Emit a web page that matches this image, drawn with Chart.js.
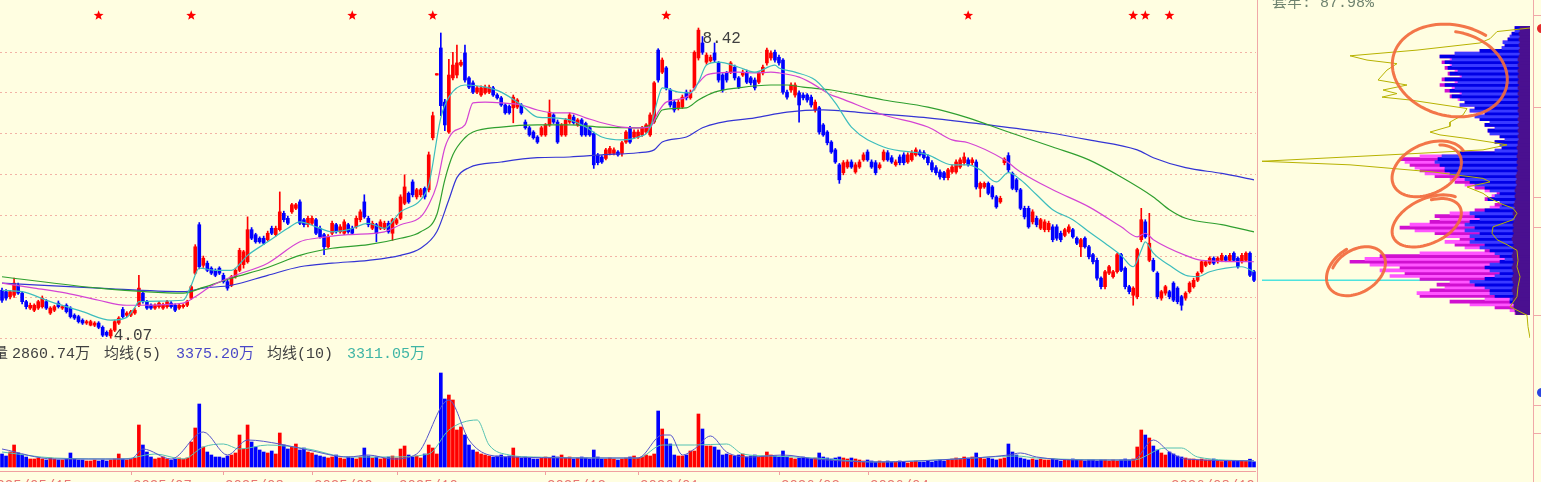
<!DOCTYPE html>
<html><head><meta charset="utf-8">
<script src="https://cdn.jsdelivr.net/npm/chart.js@4.4.1/dist/chart.umd.min.js"></script>
<style>
html,body{margin:0;padding:0;background:#fffee1;overflow:hidden;width:1541px;height:482px;}
#wrap{position:relative;width:1541px;height:482px;overflow:hidden;background:#fffee1;}
canvas{position:absolute;}
.t{position:absolute;white-space:nowrap;font-family:"Liberation Mono","Noto Sans CJK SC",monospace;font-size:15px;line-height:16px;color:#404040;}
.vl{position:absolute;background:#f0a8a8;}
</style></head><body>
<div id="wrap">
<canvas id="cp" width="1256" height="345" style="left:0;top:0"></canvas>
<canvas id="cv" width="1256" height="137" style="left:0;top:345px"></canvas>
<canvas id="cc" width="274" height="345" style="left:1259px;top:0"></canvas>
<div class="vl" style="left:1257px;top:0;width:1px;height:482px"></div>
<div class="vl" style="left:1533px;top:0;width:1px;height:482px"></div>
<div class="vl" style="left:1534px;top:15px;width:7px;height:1px"></div>
<div class="vl" style="left:1534px;top:107px;width:7px;height:1px"></div>
<div class="vl" style="left:1534px;top:197px;width:7px;height:1px"></div>
<div class="vl" style="left:1534px;top:227px;width:7px;height:1px"></div>
<div class="vl" style="left:1534px;top:315px;width:7px;height:1px"></div>
<div class="vl" style="left:1534px;top:405px;width:7px;height:1px"></div>
<div class="vl" style="left:1534px;top:433px;width:7px;height:1px"></div>
<div style="position:absolute;left:1537px;top:24px;width:9px;height:9px;border-radius:5px;background:#e52a2a"></div>
<div style="position:absolute;left:1537px;top:388px;width:9px;height:9px;border-radius:5px;background:#2b45e0"></div>
<div class="t" style="left:-7px;top:347px">量</div>
<div class="t" id="vTxt" style="left:12px;top:347px"></div>
<div class="t" style="left:104px;top:347px">均线(5)</div>
<div class="t" id="m5Txt" style="left:176px;top:347px;color:#4a48c8"></div>
<div class="t" style="left:267px;top:347px">均线(10)</div>
<div class="t" id="m10Txt" style="left:347px;top:347px;color:#3fb5a5"></div>
<div class="t" id="trap" style="left:1272px;top:-4px;color:#6f836f"></div>
</div>
<script>
// ---------------- price data (OHLC per trading day) ----------------
const O=[4.74,4.72,4.65,4.67,4.81,4.70,4.58,4.49,4.46,4.49,
4.51,4.58,4.42,4.46,4.56,4.49,4.53,4.49,4.39,4.37,
4.32,4.28,4.25,4.25,4.28,4.22,4.15,4.10,4.18,4.28,
4.47,4.39,4.39,4.42,4.53,4.70,4.58,4.53,4.49,4.51,
4.49,4.51,4.56,4.53,4.49,4.51,4.53,4.63,4.98,5.66,
5.09,5.12,5.05,5.02,5.05,4.95,4.86,4.81,4.93,5.02,
5.10,5.14,5.59,5.52,5.47,5.47,5.45,5.61,5.52,5.59,
5.82,5.75,5.84,5.89,5.98,5.73,5.66,5.68,5.73,5.61,
5.52,5.35,5.54,5.66,5.56,5.54,5.66,5.61,5.63,5.73,
5.98,5.75,5.61,5.66,5.61,5.61,5.68,5.54,5.68,5.75,
5.96,6.10,6.26,6.05,6.08,6.17,6.15,6.88,7.76,8.14,
7.38,6.96,7.72,7.76,7.90,8.07,7.72,7.65,7.52,7.48,
7.51,7.52,7.58,7.48,7.44,7.34,7.32,7.30,7.31,7.34,
7.10,7.02,6.96,6.89,6.92,6.92,7.06,7.20,7.10,6.92,
6.92,7.10,7.17,7.06,7.13,7.08,7.02,6.94,6.64,6.61,
6.59,6.66,6.66,6.68,6.66,6.82,7.02,6.89,6.89,6.92,
6.96,6.92,7.10,8.11,7.80,7.86,7.55,7.38,7.30,7.31,
7.52,7.44,7.58,8.00,8.21,7.94,7.96,8.07,7.93,7.76,
7.79,7.80,7.87,7.72,7.76,7.80,7.72,7.69,7.66,7.79,
7.93,8.00,8.08,8.01,7.97,7.52,7.55,7.48,7.51,7.48,
7.48,7.45,7.27,7.30,7.06,6.96,6.82,6.71,6.50,6.39,
6.47,6.54,6.40,6.47,6.57,6.68,6.54,6.53,6.46,6.57,
6.67,6.60,6.50,6.61,6.64,6.54,6.57,6.64,6.68,6.67,
6.61,6.53,6.46,6.40,6.39,6.32,6.40,6.40,6.47,6.53,
6.57,6.53,6.54,6.17,6.19,6.24,6.19,6.05,5.98,6.53,
6.63,6.38,6.29,6.15,5.89,5.89,5.70,5.75,5.61,5.59,
5.59,5.63,5.63,5.54,5.51,5.56,5.59,5.47,5.35,5.47,
5.35,5.24,5.16,4.91,4.79,4.98,4.93,5.00,5.24,5.05,
4.79,4.67,4.65,5.45,5.70,5.16,5.16,4.98,4.63,4.70,
4.72,4.84,4.77,4.65,4.63,4.72,4.79,4.88,5.00,5.09,
5.12,5.19,5.14,5.16,5.21,5.16,5.26,5.19,5.14,5.16,5.26,5.00];
const H=[4.77,4.75,4.74,4.91,4.84,4.72,4.60,4.56,4.55,4.60,
4.66,4.61,4.51,4.53,4.59,4.53,4.55,4.51,4.41,4.39,
4.34,4.32,4.32,4.30,4.30,4.24,4.17,4.20,4.32,4.37,
4.50,4.44,4.46,4.49,4.95,4.74,4.60,4.55,4.55,4.58,
4.56,4.60,4.58,4.55,4.55,4.55,4.60,4.81,5.38,5.69,
5.22,5.15,5.07,5.04,5.07,4.98,4.88,4.95,5.05,5.33,
5.30,5.77,5.62,5.54,5.49,5.50,5.57,5.64,5.64,6.12,
5.85,5.78,5.96,5.96,6.01,5.75,5.78,5.78,5.75,5.64,
5.54,5.52,5.71,5.68,5.66,5.73,5.68,5.64,5.78,5.87,
6.08,5.78,5.71,5.68,5.73,5.71,5.71,5.75,5.75,6.08,
6.36,6.12,6.29,6.17,6.17,6.19,6.68,7.24,7.78,8.35,
7.42,7.98,8.08,8.18,7.97,8.18,7.74,7.68,7.60,7.61,
7.62,7.62,7.60,7.50,7.46,7.36,7.34,7.48,7.43,7.36,
7.13,7.04,6.98,6.91,7.04,7.08,7.41,7.22,7.13,7.08,
7.15,7.23,7.20,7.15,7.15,7.10,7.04,6.96,6.66,6.63,
6.73,6.76,6.74,6.70,6.83,6.98,7.04,6.99,6.99,7.04,
7.08,7.23,7.67,8.13,8.00,7.88,7.57,7.41,7.41,7.48,
7.55,7.55,8.10,8.42,8.30,8.07,8.04,8.21,7.95,7.78,
7.81,7.95,7.90,7.74,7.83,7.83,7.74,7.72,7.81,7.90,
8.14,8.10,8.11,8.04,7.99,7.55,7.65,7.65,7.54,7.51,
7.50,7.48,7.41,7.32,7.08,6.98,6.84,6.73,6.52,6.56,
6.57,6.57,6.53,6.57,6.67,6.71,6.57,6.56,6.53,6.71,
6.70,6.63,6.57,6.64,6.67,6.67,6.70,6.74,6.71,6.70,
6.64,6.56,6.49,6.43,6.41,6.45,6.50,6.57,6.60,6.67,
6.60,6.60,6.57,6.26,6.26,6.26,6.21,6.07,6.06,6.60,
6.67,6.40,6.31,6.17,5.92,5.92,5.87,5.78,5.75,5.73,
5.71,5.66,5.66,5.57,5.61,5.66,5.61,5.49,5.47,5.49,
5.37,5.26,5.19,4.93,5.02,5.09,5.02,5.26,5.26,5.07,
4.81,4.79,5.33,5.89,5.73,5.82,5.19,5.00,4.74,4.81,
4.74,4.86,4.79,4.67,4.72,4.86,4.91,5.00,5.16,5.16,
5.21,5.21,5.21,5.26,5.23,5.26,5.28,5.21,5.26,5.28,5.28,5.02];
const L=[4.57,4.60,4.62,4.64,4.68,4.55,4.48,4.47,4.44,4.47,
4.49,4.47,4.40,4.44,4.49,4.47,4.42,4.35,4.33,4.28,
4.26,4.26,4.24,4.23,4.20,4.09,4.09,4.07,4.16,4.26,
4.35,4.37,4.37,4.40,4.51,4.56,4.47,4.47,4.47,4.49,
4.47,4.49,4.49,4.44,4.47,4.49,4.51,4.61,4.96,5.04,
5.06,5.00,4.96,4.93,4.96,4.84,4.74,4.79,4.91,5.00,
5.05,5.12,5.45,5.40,5.40,5.38,5.43,5.52,5.50,5.57,
5.70,5.66,5.82,5.87,5.66,5.63,5.63,5.66,5.52,5.47,
5.24,5.33,5.52,5.54,5.54,5.52,5.54,5.52,5.61,5.70,
5.75,5.63,5.59,5.42,5.59,5.59,5.54,5.44,5.66,5.73,
5.94,5.96,6.05,6.02,6.05,6.02,6.12,6.85,7.76,7.19,
6.98,6.94,7.69,7.72,7.88,7.66,7.57,7.50,7.50,7.46,
7.49,7.50,7.46,7.42,7.32,7.21,7.21,7.09,7.29,7.21,
7.00,6.90,6.86,6.80,6.90,6.90,7.04,7.08,6.80,6.90,
6.90,7.08,7.07,7.04,6.90,6.90,6.90,6.45,6.50,6.52,
6.57,6.64,6.64,6.62,6.62,6.80,6.80,6.87,6.87,6.90,
6.94,6.90,7.08,7.66,7.78,7.55,7.31,7.24,7.27,7.29,
7.41,7.42,7.55,7.97,8.05,7.91,7.94,7.94,7.66,7.52,
7.66,7.78,7.69,7.57,7.74,7.64,7.62,7.55,7.64,7.76,
7.90,7.97,7.94,7.90,7.49,7.42,7.52,7.45,7.10,7.41,
7.38,7.31,7.24,6.93,6.90,6.78,6.66,6.52,6.24,6.36,
6.45,6.45,6.38,6.45,6.55,6.55,6.45,6.36,6.44,6.55,
6.55,6.52,6.48,6.50,6.50,6.52,6.55,6.62,6.62,6.58,
6.50,6.40,6.36,6.30,6.29,6.29,6.38,6.38,6.45,6.50,
6.48,6.50,6.16,6.05,6.17,6.08,6.02,5.89,5.96,6.50,
6.40,6.15,6.12,5.87,5.74,5.61,5.67,5.63,5.59,5.56,
5.56,5.42,5.44,5.42,5.49,5.54,5.47,5.38,5.21,5.33,
5.18,5.11,4.88,4.76,4.76,4.96,4.91,4.98,5.00,4.76,
4.69,4.53,4.62,5.42,5.47,5.14,5.00,4.62,4.60,4.67,
4.62,4.58,4.55,4.46,4.60,4.70,4.77,4.86,4.98,5.07,
5.10,5.10,5.12,5.14,5.14,5.14,5.14,5.05,5.12,5.14,4.93,4.86];
const C=[4.60,4.63,4.72,4.84,4.70,4.58,4.51,4.53,4.53,4.58,
4.63,4.49,4.49,4.51,4.51,4.51,4.44,4.37,4.35,4.30,
4.28,4.30,4.30,4.28,4.22,4.11,4.11,4.18,4.30,4.35,
4.37,4.42,4.44,4.46,4.77,4.58,4.49,4.49,4.53,4.56,
4.53,4.58,4.51,4.46,4.53,4.53,4.58,4.79,5.35,5.07,
5.19,5.02,4.98,4.95,4.98,4.86,4.77,4.93,5.02,5.30,
5.28,5.59,5.47,5.42,5.42,5.40,5.54,5.54,5.61,5.84,
5.73,5.68,5.94,5.94,5.68,5.66,5.75,5.75,5.54,5.49,
5.35,5.49,5.68,5.56,5.63,5.70,5.56,5.54,5.75,5.84,
5.77,5.66,5.68,5.54,5.70,5.68,5.56,5.73,5.73,6.05,
6.19,5.98,6.08,6.15,6.15,6.05,6.64,7.19,7.78,7.33,
7.06,7.76,7.90,7.93,7.94,7.69,7.59,7.52,7.58,7.58,
7.59,7.59,7.48,7.44,7.34,7.23,7.23,7.45,7.41,7.23,
7.02,6.92,6.88,6.82,7.02,7.06,7.24,7.10,6.82,7.06,
7.13,7.20,7.09,7.13,6.92,6.92,6.92,6.50,6.53,6.54,
6.71,6.73,6.71,6.64,6.81,6.96,6.82,6.96,6.96,7.02,
7.06,7.20,7.65,7.69,7.97,7.58,7.34,7.27,7.38,7.45,
7.44,7.51,8.08,8.39,8.08,8.04,8.01,7.97,7.69,7.55,
7.69,7.93,7.72,7.59,7.80,7.66,7.65,7.58,7.79,7.87,
8.11,8.07,7.97,7.93,7.52,7.45,7.62,7.62,7.34,7.44,
7.41,7.34,7.38,6.96,6.92,6.81,6.68,6.54,6.29,6.53,
6.54,6.47,6.50,6.54,6.64,6.57,6.47,6.39,6.50,6.68,
6.57,6.54,6.54,6.53,6.53,6.64,6.67,6.71,6.64,6.60,
6.53,6.43,6.39,6.33,6.32,6.43,6.47,6.54,6.57,6.61,
6.50,6.57,6.19,6.24,6.24,6.10,6.05,5.91,6.03,6.58,
6.43,6.17,6.15,5.89,5.77,5.63,5.84,5.66,5.73,5.70,
5.68,5.45,5.47,5.45,5.59,5.63,5.49,5.40,5.45,5.35,
5.21,5.14,4.91,4.79,5.00,5.07,5.00,5.24,5.02,4.79,
4.72,4.77,5.31,5.73,5.49,5.40,5.02,4.65,4.72,4.79,
4.65,4.60,4.58,4.53,4.70,4.84,4.88,4.98,5.14,5.14,
5.19,5.12,5.19,5.23,5.16,5.23,5.16,5.07,5.23,5.26,4.95,4.88];

// volume (万股)
const vol=[7150,6050,8250,12100,7700,6600,5500,4400,4400,4950,
4400,3850,4950,4400,3850,3850,4400,7700,4400,3850,
3850,3300,3300,3850,3300,3850,3300,3850,4400,7150,
4400,3850,4400,4950,23100,12100,8250,5500,4400,4950,
5500,4400,3850,4400,4950,4400,4950,13750,21450,34650,
11000,8250,6600,5500,5500,4950,6050,6600,7700,17600,
9900,23100,13750,11000,9350,8250,7700,8800,7150,18700,
12100,9900,11000,12650,9350,10450,8250,7700,6600,6050,
5500,4950,5500,6600,4950,4400,5500,4950,4400,5500,
10450,6050,4950,5500,4400,4950,5500,6050,4950,9900,
11550,6600,5500,6050,4950,7150,12100,10450,7150,51700,
37400,39600,36850,20350,22000,17600,12100,9350,8250,7150,
6600,6050,5500,6050,6600,5500,6050,10450,5500,4950,
5500,4950,4400,4400,4950,5500,4950,6050,5500,6600,
4950,5500,4400,4950,5500,4950,4400,9350,5500,4400,
4400,4950,4400,3850,4400,4950,5500,6050,4950,5500,
6600,6050,7150,30800,20900,15400,12650,6600,6050,6050,
6600,8800,8800,29150,20900,11550,11550,11000,9350,6600,
7150,6600,6050,6600,7150,5500,6050,6600,5500,6050,
8250,6600,6050,5500,8800,5500,4950,4400,4950,5500,
4950,4400,4950,7700,5500,4950,4400,4950,5500,4950,
4400,4950,4400,3850,3300,3850,3300,2750,3300,2750,
3300,2750,2750,3300,2750,2200,2750,3300,2750,2750,
3300,2750,3300,3850,3300,3850,4400,4950,4400,5500,
4950,5500,7700,4950,4400,4950,4400,3850,4400,4950,
12650,8250,6600,4950,4400,3850,4400,3850,4400,3850,
3850,4400,3850,3300,3850,3850,4400,3850,3850,3300,
3850,3850,3300,3850,3850,3300,3850,3300,3850,4400,
3850,4400,11000,20350,17600,15950,11550,9350,7700,6600,
8250,7150,6050,5500,4950,4400,4400,3850,4400,3850,
3850,4400,3300,3000,3400,3100,3500,3200,3600,3100,4300,2860.74];

// moving averages: [day index, price]
const maCyan=[[0,4.74],[5,4.72],[12,4.58],[20,4.44],[27,4.32],[31,4.36],[33,4.50],[34,4.58],[45,4.60],[47,4.81],[49,5.05],[53,5.02],[57,5.02],[61,5.23],[66,5.42],[71,5.61],[74,5.70],[78,5.63],[82,5.56],[86,5.59],[91,5.68],[95,5.61],[99,5.84],[104,6.01],[106,6.22],[109,7.16],[111,7.45],[115,7.62],[120,7.59],[124,7.52],[129,7.34],[133,7.17],[137,7.16],[141,7.13],[145,7.03],[149,6.89],[154,6.85],[158,6.89],[161,7.02],[163,7.44],[164,7.58],[168,7.52],[171,7.51],[173,7.66],[175,7.90],[178,7.94],[183,7.87],[187,7.80],[192,7.90],[193,7.86],[197,7.80],[202,7.69],[207,7.37],[211,7.03],[219,6.75],[230,6.64],[236,6.50],[240,6.50],[243,6.43],[247,6.26],[250,6.39],[253,6.29],[257,6.08],[261,5.87],[266,5.73],[270,5.56],[274,5.40],[278,5.23],[281,5.07],[283,5.30],[284,5.42],[286,5.26],[290,5.09],[294,4.95],[297,4.93],[300,5.00],[304,5.05],[308,5.07],[311,5.00]];
const maMagenta=[[0,4.84],[8,4.77],[16,4.70],[24,4.60],[31,4.53],[34,4.53],[45,4.56],[48,4.65],[52,4.80],[57,4.93],[66,5.12],[74,5.42],[78,5.47],[86,5.52],[95,5.56],[99,5.66],[104,5.77],[106,5.94],[108,6.22],[110,6.74],[112,6.96],[115,7.06],[117,7.37],[120,7.38],[124,7.37],[129,7.34],[133,7.27],[137,7.23],[141,7.23],[145,7.16],[149,7.09],[154,7.03],[158,7.02],[161,7.03],[163,7.24],[165,7.38],[170,7.45],[173,7.65],[175,7.76],[178,7.79],[183,7.80],[187,7.79],[191,7.80],[193,7.79],[198,7.73],[201,7.65],[206,7.48],[208,7.44],[219,7.20],[230,7.03],[236,6.85],[240,6.81],[249,6.57],[253,6.40],[261,6.15],[270,5.91],[278,5.63],[282,5.49],[284,5.54],[286,5.45],[294,5.23],[298,5.16],[311,5.14]];
const maGreen=[[0,4.93],[24,4.77],[45,4.70],[50,4.78],[57,4.91],[66,5.06],[74,5.23],[82,5.33],[91,5.38],[99,5.47],[104,5.56],[108,5.80],[110,6.29],[112,6.64],[115,6.88],[117,6.96],[124,7.03],[133,7.06],[141,7.06],[149,7.03],[158,7.02],[162,7.10],[164,7.27],[170,7.30],[173,7.41],[177,7.52],[183,7.58],[191,7.62],[195,7.62],[199,7.59],[206,7.55],[219,7.41],[230,7.31],[240,7.16],[250,6.96],[261,6.75],[270,6.57],[278,6.33],[286,6.05],[290,5.87],[294,5.75],[303,5.66],[311,5.56]];
const maBlue=[[0,4.84],[24,4.77],[45,4.72],[50,4.77],[57,4.81],[66,4.95],[74,5.07],[82,5.12],[91,5.16],[99,5.23],[104,5.33],[108,5.56],[111,6.01],[113,6.32],[116,6.46],[124,6.54],[133,6.60],[141,6.61],[149,6.64],[158,6.67],[162,6.71],[164,6.82],[170,6.89],[174,7.02],[178,7.09],[187,7.16],[195,7.24],[204,7.27],[214,7.23],[230,7.16],[245,7.06],[260,6.95],[270,6.85],[282,6.71],[286,6.60],[294,6.46],[303,6.38],[311,6.29]];
// volume averages: [day index, 万股]
const volMa5=[[0,9900],[13,4400],[32,4400],[35,9900],[42,4400],[50,19250],[56,6600],[61,14850],[69,12650],[76,9350],[86,5500],[91,6600],[97,4400],[103,7150],[111,36850],[116,14850],[121,6600],[127,5500],[141,4950],[158,4950],[164,17600],[166,17600],[169,6600],[172,9900],[176,17050],[180,8250],[186,5500],[194,6600],[202,4400],[217,2750],[237,4400],[250,6600],[253,7700],[257,5500],[268,3850],[281,3850],[286,14850],[290,8250],[294,4400],[311,3375.20]];
const volMa10=[[0,8250],[13,4950],[30,4400],[38,7150],[45,4400],[50,11000],[55,12650],[59,9900],[66,12100],[76,9900],[86,5500],[96,5500],[106,7150],[111,20350],[118,25850],[121,12100],[126,6600],[132,5500],[158,4950],[164,12100],[172,12100],[180,12650],[184,7150],[191,6050],[202,4950],[217,2750],[237,4400],[252,6050],[257,4950],[281,3850],[289,10450],[293,10450],[297,5500],[311,3311.05]];

const gridPrices=[4.07,4.645,5.22,5.79,6.36,6.935,7.51,8.08];
const starIdx=[24,47,87,107,165,240,281,284,290];
const monthTickIdx=[32,55,77,98,135,158,193,215];
const monthLabels=['2025/07','2025/08','2025/09','2025/10','2025/12','2026/01','2026/03','2026/04'];
const firstDateLabel='2025/05/15', lastDateLabel='2026/08/19';

// chip distribution
const chipPrices=[4.42,4.46,4.50,4.54,4.58,4.62,4.66,4.70,4.74,4.78,4.82,4.86,4.90,4.94,4.98,5.02,5.06,5.10,5.14,5.18,5.22,5.26,5.30,5.34,5.38,5.42,5.46,5.50,5.54,5.58,5.62,5.66,5.70,5.74,5.78,5.82,5.86,5.90,5.94,5.98,6.02,6.06,6.10,6.14,6.18,6.22,6.26,6.30,6.34,6.38,6.42,6.46,6.50,6.54,6.58,6.62,6.66,6.70,6.74,6.78,6.82,6.86,6.90,6.94,6.98,7.02,7.06,7.10,7.14,7.18,7.22,7.26,7.30,7.34,7.38,7.42,7.46,7.50,7.54,7.58,7.62,7.66,7.70,7.74,7.78,7.82,7.86,7.90,7.94,7.98,8.02,8.06,8.10,8.14,8.18,8.22,8.26,8.30,8.34,8.38,8.42];
const chipMagenta=[15,20,35,60,80,45,110,113,100,85,93,80,110,140,125,150,130,160,180,165,150,110,45,65,75,85,70,85,95,115,130,120,100,90,95,80,55,40,35,30,45,38,33,45,55,65,75,80,95,105,110,115,120,125,130,110,70,35,28,30,35,25,30,40,42,35,45,40,50,55,45,60,55,70,65,72,80,70,85,78,90,75,88,70,82,75,85,80,88,80,90,75,50,28,25,27,22,20,18,15,15];
const chipBlue=[0,5,10,15,20,20,35,40,40,45,55,60,45,35,30,40,45,40,30,25,30,35,40,50,45,60,55,60,50,65,55,65,60,50,55,60,45,30,28,30,42,35,30,40,45,55,60,65,70,80,85,85,90,95,92,88,70,35,28,30,35,25,30,40,42,35,45,40,50,55,45,60,55,70,65,70,78,68,80,75,85,72,85,68,80,72,82,78,85,78,90,75,50,28,25,27,22,20,18,15,15];
const chipDark=[14,15,16,16,17,17,16,17,18,17,16,17,18,17,16,17,18,17,16,17,18,17,16,17,16,17,18,17,16,17,16,17,16,15,16,17,16,15,16,15,14,15,14,15,14,13,14,13,14,13,12,13,12,13,12,13,12,12,13,12,12,11,12,11,12,11,12,11,12,11,11,12,11,12,11,12,11,12,11,12,11,12,11,12,11,12,11,12,11,12,11,10,11,10,11,10,11,10,11,10,10];
const chipCurve=[[0,8.42],[33,8.37],[40,8.27],[50,8.21],[113,8.11],[180,8.03],[163,7.97],[133,7.92],[143,7.83],[152,7.69],[123,7.62],[147,7.55],[133,7.50],[148,7.45],[120,7.41],[63,7.29],[67,7.20],[80,7.10],[80,7.04],[100,6.96],[90,6.92],[63,6.87],[40,6.82],[23,6.78],[47,6.71],[113,6.66],[268,6.55],[180,6.50],[97,6.40],[47,6.31],[40,6.26],[63,6.19],[47,6.10],[40,6.03],[30,5.96],[17,5.89],[13,5.82],[17,5.73],[27,5.68],[37,5.63],[38,5.54],[33,5.45],[23,5.38],[13,5.30],[12,5.16],[13,5.07],[10,4.93],[12,4.79],[13,4.65],[20,4.51],[3,4.39],[2,4.23],[0,4.07]];
const trappedPct=87.98;
// hand-drawn circles on the chip panel (chip amount, price, radii, tilt)
const marks=[
 {amt:78, price:7.80, rx:60, ry:0.63, rot:15, t0:-1.7, extra:0.5},
 {amt:102,price:6.43, rx:38, ry:0.35, rot:-25, t0:-0.9, extra:0.8},
 {amt:102,price:5.70, rx:38, ry:0.31, rot:-25, t0:-1.2, extra:0.7},
 {amt:173,price:5.02, rx:32, ry:0.31, rot:-32, t0:-2.3, extra:0.8}
];

// ---------------- rendering ----------------
const N=C.length, UP='#ff0000', DOWN='#0000ff';
const dirColor=i=>(C[i]>=O[i]?UP:DOWN);
const knot=a=>a.map(([x,y])=>({x,y}));
const PMIN=3.972, PMAX=8.813;
const base={responsive:false,animation:false,events:[],plugins:{legend:{display:false},tooltip:{enabled:false}}};
const maLine=(d,c,o)=>({type:'line',data:knot(d),borderColor:c,borderWidth:1.2,pointRadius:0,cubicInterpolationMode:'monotone',order:o});

function drawStar(ctx,x,y,R,r){ctx.beginPath();for(let k=0;k<10;k++){const a=-Math.PI/2+k*Math.PI/5,rr=k%2?r:R;ctx.lineTo(x+rr*Math.cos(a),y+rr*Math.sin(a));}ctx.closePath();ctx.fill();}

const pricePlugin={id:'pp',afterDatasetsDraw(chart){
  const {ctx,scales:{x,y}}=chart;ctx.save();
  ctx.fillStyle='#ff0000';
  starIdx.forEach(i=>drawStar(ctx,x.getPixelForValue(i),15.5,5.2,2.2));
  let iMax=0,iMin=0;for(let i=0;i<N;i++){if(H[i]>H[iMax])iMax=i;if(L[i]<L[iMin])iMin=i;}
  ctx.fillStyle='#404040';ctx.font='16px "Liberation Mono", monospace';ctx.textBaseline='alphabetic';
  ctx.fillText(H[iMax].toFixed(2),x.getPixelForValue(iMax)+4,y.getPixelForValue(H[iMax])+15);
  ctx.fillText(L[iMin].toFixed(2),x.getPixelForValue(iMin)+3,y.getPixelForValue(L[iMin])+2);
  ctx.restore();}};

new Chart(document.getElementById('cp'),{type:'bar',
 data:{datasets:[
  maLine(maCyan,'#3dbdbd',1),maLine(maMagenta,'#d444d4',2),maLine(maGreen,'#2f9f2f',3),maLine(maBlue,'#3434d4',4),
  {type:'bar',data:C.map((c,i)=>({x:i,y:[O[i],c]})),backgroundColor:c=>dirColor(c.dataIndex),barThickness:3,minBarLength:1,grouped:false,order:5},
  {type:'bar',data:C.map((c,i)=>({x:i,y:[L[i],H[i]]})),backgroundColor:c=>dirColor(c.dataIndex),barThickness:1,grouped:false,order:6}
 ]},
 options:{...base,layout:{padding:0},scales:{
  x:{type:'linear',min:-0.5,max:N-0.5,offset:false,display:false},
  y:{type:'linear',min:PMIN,max:PMAX,offset:false,position:'left',afterFit:s=>{s.width=0;},
     afterBuildTicks:s=>{s.ticks=gridPrices.map(v=>({value:v}));},
     ticks:{display:false},grid:{color:'#f2b3a6',drawTicks:false,lineWidth:1},border:{display:false,dash:[2,3]}}
 }},plugins:[pricePlugin]});

const axisPlugin={id:'ax',afterDraw(chart){
  const {ctx,chartArea:a,scales:{x}}=chart;ctx.save();
  ctx.strokeStyle='#f0a0a0';ctx.lineWidth=1;ctx.beginPath();
  ctx.moveTo(0,a.bottom+0.5);ctx.lineTo(chart.width,a.bottom+0.5);
  monthTickIdx.forEach(i=>{const px=Math.round(x.getPixelForValue(i))+0.5;ctx.moveTo(px,a.bottom);ctx.lineTo(px,a.bottom+4);});
  ctx.stroke();
  ctx.fillStyle='#e87474';ctx.font='14px "Liberation Mono", monospace';ctx.textBaseline='top';
  const ty=a.bottom+8;
  monthTickIdx.forEach((i,k)=>ctx.fillText(monthLabels[k],Math.round(x.getPixelForValue(i))+2,ty));
  ctx.fillText(firstDateLabel,-12,ty);
  ctx.textAlign='right';ctx.fillText(lastDateLabel,chart.width-1,ty);
  ctx.restore();}};

new Chart(document.getElementById('cv'),{type:'bar',
 data:{datasets:[
  {type:'line',data:knot(volMa5),borderColor:'#5555cc',borderWidth:1,pointRadius:0,cubicInterpolationMode:'monotone',order:1},
  {type:'line',data:knot(volMa10),borderColor:'#55c2b2',borderWidth:1,pointRadius:0,cubicInterpolationMode:'monotone',order:2},
  {type:'bar',data:vol.map((v,i)=>({x:i,y:v})),backgroundColor:c=>dirColor(c.dataIndex),barThickness:3,grouped:false,order:5}
 ]},
 options:{...base,layout:{padding:{top:20,bottom:11,left:0,right:0}},scales:{
  x:{type:'linear',min:-0.5,max:N-0.5,offset:false,display:false},
  y:{type:'linear',min:-2200,max:56100,offset:false,display:false}
 }},plugins:[axisPlugin]});

const markPlugin={id:'mk',afterDatasetsDraw(chart){
  const {ctx,scales:{x,y}}=chart;ctx.save();
  ctx.strokeStyle='#f26a3c';ctx.lineWidth=3;ctx.lineCap='round';ctx.lineJoin='round';ctx.globalAlpha=0.92;
  marks.forEach(m=>{
    const cx=x.getPixelForValue(m.amt),cy=y.getPixelForValue(m.price);
    const rx=Math.abs(x.getPixelForValue(m.amt+m.rx)-cx),ry=Math.abs(y.getPixelForValue(m.price+m.ry)-cy);
    const rot=m.rot*Math.PI/180,steps=90;ctx.beginPath();
    for(let k=0;k<=steps;k++){const f=k/steps,t=m.t0+(2*Math.PI+m.extra)*f,s=0.9+0.16*f;
      const px=Math.cos(t)*rx*s,py=Math.sin(t)*ry*s;
      const X=cx+px*Math.cos(rot)-py*Math.sin(rot),Y=cy+px*Math.sin(rot)+py*Math.cos(rot);
      k?ctx.lineTo(X,Y):ctx.moveTo(X,Y);}
    ctx.stroke();});
  ctx.restore();}};

const lastClose=C[N-1];
new Chart(document.getElementById('cc'),{type:'bar',
 data:{datasets:[
  {type:'line',data:knot(chipCurve),borderColor:'#b7b200',borderWidth:1,pointRadius:0,tension:0,order:1},
  {type:'bar',data:chipPrices.map((p,i)=>({x:chipDark[i],y:p})),backgroundColor:'#4a1090',barThickness:3,grouped:false,order:2},
  {type:'bar',data:chipPrices.map((p,i)=>({x:chipBlue[i],y:p})),backgroundColor:c=>c.dataIndex%2?'#3a3aff':'#0000e6',barThickness:3,grouped:false,order:3},
  {type:'bar',data:chipPrices.map((p,i)=>({x:chipMagenta[i],y:p})),backgroundColor:c=>c.dataIndex%2?'#ff55ff':'#d010d0',barThickness:3,grouped:false,order:4},
  {type:'line',data:[{x:268,y:lastClose},{x:0,y:lastClose}],borderColor:'#4de3de',borderWidth:1.5,pointRadius:0,order:6}
 ]},
 options:{...base,indexAxis:'y',layout:{padding:{left:3,right:3,top:0,bottom:0}},scales:{
  x:{type:'linear',min:0,max:268,reverse:true,offset:false,display:false},
  y:{type:'linear',min:PMIN,max:PMAX,offset:false,display:false}
 }},plugins:[markPlugin]});

document.getElementById('vTxt').textContent=vol[N-1].toFixed(2)+'万';
document.getElementById('m5Txt').textContent=volMa5[volMa5.length-1][1].toFixed(2)+'万';
document.getElementById('m10Txt').textContent=volMa10[volMa10.length-1][1].toFixed(2)+'万';
document.getElementById('trap').textContent='套牢: '+trappedPct.toFixed(2)+'%';
</script>
</body></html>
